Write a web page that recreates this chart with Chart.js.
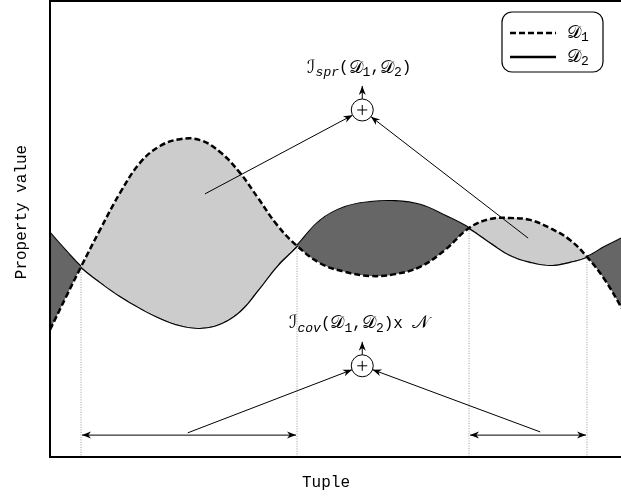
<!DOCTYPE html>
<html>
<head>
<meta charset="utf-8">
<script src="https://cdn.jsdelivr.net/npm/chart.js@4/dist/chart.umd.min.js"></script>
<style>
html,body{margin:0;padding:0;background:#fff;overflow:hidden}
#wrap{width:624px;height:496px}
</style>
</head>
<body>
<div id="wrap"><canvas id="myChart"></canvas></div>
<script>
// tuple positions shared by both distributions
const tuples=[0,2.79,5.40,8.71,12.20,15.68,19.16,22.65,26.13,29.62,33.10,36.24,39.55,43.03,47.04,51.39,55.75,60.10,64.46,68.82,73.00,76.66,80.14,83.62,87.11,90.59,93.55,96.69,100]
const d1Values=[27.9,35.1,41.7,49.8,57.9,64.5,68.2,69.7,69.5,66.9,62.3,56.8,50.9,46.3,42.5,40.6,39.7,40.1,41.7,45.4,50.2,52.2,52.4,52.0,50.2,47.6,43.9,38.8,31.8]
const d2Values=[49.1,45.2,41.7,38.4,35.3,32.7,30.5,28.9,28.3,29.2,32.0,36.6,41.9,46.3,51.8,54.8,55.9,56.1,55.3,52.9,50.2,47.1,44.3,42.8,42.1,42.8,43.9,46.1,48.2]
const seriesNames=["𝒟1","𝒟2"]
const xTitle="Tuple"
const yTitle="Property value"

// operators: circle centre, arrow sources, label runs
const sprCircle={x:54.4,y:76.1}
const sprFrom=[{x:27.0,y:57.7},{x:83.3,y:48.0}]
const sprLabel=[["ℐ","cal"],["spr","subI"],["(","mono"],["𝒟","cal"],["1","sub"],[",","mono"],["𝒟","cal"],["2","sub"],[")","mono"]]
const covCircle={x:54.4,y:20.0}
const covFrom=[{x:24.0,y:5.3},{x:85.4,y:5.5}]
const covLabel=[["ℐ","cal"],["cov","subI"],["(","mono"],["𝒟","cal"],["1","sub"],[",","mono"],["𝒟","cal"],["2","sub"],[")x ","mono"],["𝒩","cal"]]
const spanLevel=4.8

const MONO="'Liberation Mono','DejaVu Sans Mono',monospace"
const CAL="'DejaVu Serif','DejaVu Sans','Noto Sans',serif"
const fonts={
  mono:{font:"16px "+MONO,dy:0},
  cal:{font:"18px "+CAL,dy:0},
  sub:{font:"13px "+MONO,dy:5},
  subI:{font:"italic 13px "+MONO,dy:5}
}

function toPoints(vals){
  return tuples.map((t,i)=>({x:t,y:vals[i]}))
}

// tuples where the two curves meet
const crossings=tuples.map((t,i)=>({x:t,y:d1Values[i]})).filter((p,i)=>d1Values[i]===d2Values[i])

function richWidth(ctx,runs){
  let w=0
  runs.forEach(r=>{ctx.font=fonts[r[1]].font;w+=ctx.measureText(r[0]).width})
  return w
}
function drawRich(ctx,runs,cx,cy){
  let x=cx-richWidth(ctx,runs)/2
  ctx.textAlign="left"
  ctx.textBaseline="middle"
  runs.forEach(r=>{
    const f=fonts[r[1]]
    ctx.font=f.font
    ctx.fillText(r[0],x,cy+f.dy)
    x+=ctx.measureText(r[0]).width
  })
}
function arrowHead(ctx,x,y,ang){
  const len=9,w=3.5
  ctx.save()
  ctx.translate(x,y)
  ctx.rotate(ang)
  ctx.beginPath()
  ctx.moveTo(0,0)
  ctx.lineTo(-len,-w)
  ctx.lineTo(-len*0.7,0)
  ctx.lineTo(-len,w)
  ctx.closePath()
  ctx.fill()
  ctx.restore()
}
function arrow(ctx,x0,y0,x1,y1){
  ctx.beginPath()
  ctx.moveTo(x0,y0)
  ctx.lineTo(x1,y1)
  ctx.stroke()
  arrowHead(ctx,x1,y1,Math.atan2(y1-y0,x1-x0))
}
function operator(ctx,xs,ys,c,from,label){
  const r=11
  const cx=xs.getPixelForValue(c.x),cy=ys.getPixelForValue(c.y)
  ctx.lineWidth=1
  from.forEach(p=>{
    const px=xs.getPixelForValue(p.x),py=ys.getPixelForValue(p.y)
    const a=Math.atan2(cy-py,cx-px)
    arrow(ctx,px,py,cx-Math.cos(a)*r,cy-Math.sin(a)*r)
  })
  ctx.beginPath()
  ctx.arc(cx,cy,r,0,Math.PI*2)
  ctx.fillStyle="#fff"
  ctx.fill()
  ctx.fillStyle="#000"
  ctx.stroke()
  ctx.beginPath()
  ctx.moveTo(cx-5,cy);ctx.lineTo(cx+5,cy)
  ctx.moveTo(cx,cy-5);ctx.lineTo(cx,cy+5)
  ctx.stroke()
  arrow(ctx,cx,cy-r,cx,cy-r-13)
  drawRich(ctx,label,cx-3,cy-r-31)
}

const extras={
  id:"extras",
  afterDatasetsDraw(chart){
    const {ctx,chartArea:a,scales:{x,y}}=chart
    ctx.save()
    ctx.strokeStyle="#000"
    ctx.fillStyle="#000"
    // spans between crossings
    ctx.lineWidth=1
    const sy=y.getPixelForValue(spanLevel)
    for(let i=0;i+1<crossings.length;i+=2){
      const xa=x.getPixelForValue(crossings[i].x)+1,xb=x.getPixelForValue(crossings[i+1].x)-1
      arrow(ctx,(xa+xb)/2,sy,xa,sy)
      arrow(ctx,(xa+xb)/2,sy,xb,sy)
    }
    operator(ctx,x,y,sprCircle,sprFrom,sprLabel)
    operator(ctx,x,y,covCircle,covFrom,covLabel)

    // legend box
    const lx=502,ly=12,lw=101,lh=60
    ctx.lineWidth=1.2
    ctx.beginPath()
    ctx.roundRect(lx,ly,lw,lh,10)
    ctx.fillStyle="#fff"
    ctx.fill()
    ctx.stroke()
    ctx.fillStyle="#000"
    chart.data.datasets.slice(0,2).forEach((ds,i)=>{
      const yy=ly+21+i*24
      ctx.lineWidth=2.5
      ctx.setLineDash(ds.borderDash||[])
      ctx.beginPath()
      ctx.moveTo(lx+8,yy);ctx.lineTo(lx+54,yy)
      ctx.stroke()
      ctx.setLineDash([])
      const nm=seriesNames[i]
      drawRich(ctx,[[nm.slice(0,-1),"cal"],[nm.slice(-1),"sub"]],lx+76,yy)
    })

    // frame
    ctx.lineWidth=2
    ctx.beginPath()
    ctx.rect(a.left,a.top,a.right-a.left+4,a.bottom-a.top)
    ctx.stroke()

    // axis titles
    ctx.font="16px "+MONO
    ctx.textAlign="center"
    ctx.textBaseline="middle"
    ctx.fillText(xTitle,326,483)
    ctx.translate(22,212)
    ctx.rotate(-Math.PI/2)
    ctx.fillText(yTitle,0,0)
    ctx.restore()
  }
}

const datasets=[
  {label:seriesNames[0],data:toPoints(d1Values),borderColor:"#000",borderWidth:2.5,borderDash:[6,3],
   pointRadius:0,tension:0.4,
   fill:{target:1,above:"#cccccc",below:"#666666"}},
  {label:seriesNames[1],data:toPoints(d2Values),borderColor:"#000",borderWidth:2.2,
   pointRadius:0,tension:0.4,fill:false}
]
crossings.forEach(c=>{
  datasets.push({data:[{x:c.x,y:c.y},{x:c.x,y:0}],borderColor:"#999",borderWidth:1,borderDash:[1,1.5],
    pointRadius:0,tension:0,fill:false})
})

const myChart=document.getElementById("myChart")
new Chart(myChart,{
  type:"line",
  data:{datasets},
  options:{
    responsive:true,
    maintainAspectRatio:false,
    animation:false,
    layout:{padding:{left:50,top:1,bottom:39,right:0}},
    plugins:{legend:{display:false},tooltip:{enabled:false}},
    scales:{
      x:{type:"linear",min:0,max:100,display:false},
      y:{min:0,max:100,display:false}
    }
  },
  plugins:[extras]
})
</script>
</body>
</html>
